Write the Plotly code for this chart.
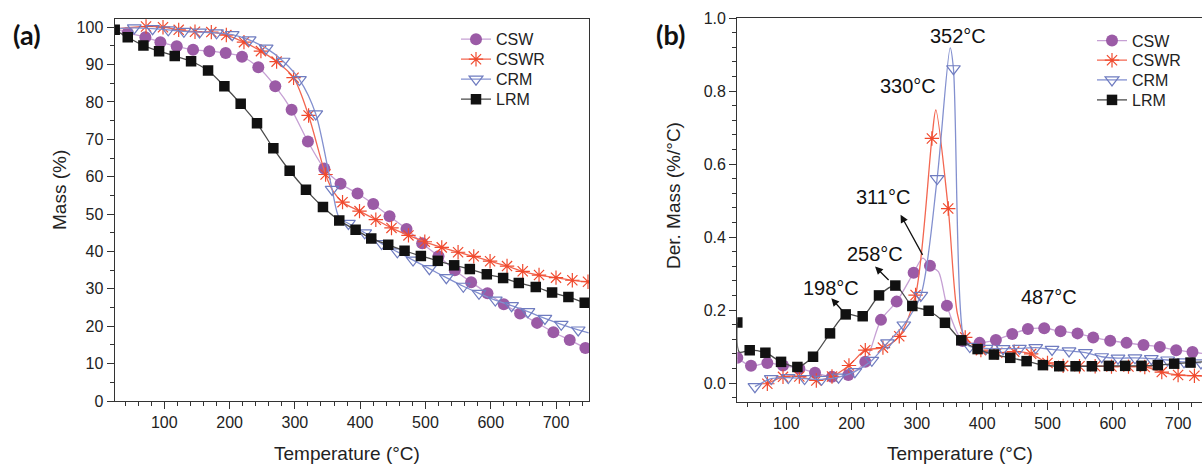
import plotly.graph_objects as go

W, H = 1202, 466

# ---------------- (a) TGA : Mass (%) ----------------
tga_lrm_T = [24, 44, 68, 92, 116, 141, 167, 192, 217, 242, 267, 292, 317, 343, 368, 393, 417, 443, 468, 493, 519, 544, 568, 594, 619, 643, 669, 694, 719, 744]
tga_lrm_M = [99.3, 97.3, 95.1, 93.6, 92.3, 90.9, 88.4, 84.2, 79.5, 74.3, 67.6, 61.6, 56.5, 51.9, 48.3, 45.8, 43.5, 41.8, 40.2, 38.8, 37.5, 36.3, 35.3, 33.9, 32.9, 31.6, 30.5, 29.0, 27.8, 26.3]

tga_csw_T = [44, 71, 94, 119, 144, 169, 194, 219, 244, 270, 295, 320, 345, 370, 396, 420, 445, 471, 495, 520, 545, 570, 595, 620, 645, 671, 696, 721, 745]
tga_csw_M = [98.5, 97.3, 96.0, 94.9, 94.0, 93.6, 93.1, 92.1, 89.3, 84.2, 77.9, 69.4, 62.2, 58.1, 55.5, 52.7, 49.4, 46.0, 42.2, 38.7, 35.0, 31.8, 28.8, 25.9, 23.4, 20.9, 18.4, 16.3, 14.2]
tga_csw_extra_T = [24]
tga_csw_extra_M = [99.6]

tga_cswr_T = [72, 98, 122, 147, 172, 195, 222, 248, 272, 298, 321, 347, 373, 399, 424, 448, 474, 499, 525, 550, 574, 599, 625, 649, 674, 700, 725, 749]
tga_cswr_M = [100.2, 100.0, 99.3, 98.8, 98.7, 97.9, 96.0, 93.6, 90.8, 86.5, 76.4, 60.6, 53.2, 50.8, 48.5, 46.3, 44.3, 42.6, 41.1, 39.8, 38.7, 37.4, 36.1, 34.7, 33.7, 33.0, 32.3, 31.9]
tga_cswr_extra_T = [24, 359]
tga_cswr_extra_M = [99.5, 56.0]

tga_crm_T = [54, 82, 106, 130, 154, 180, 204, 230, 256, 282, 307, 332, 357, 382, 407, 433, 457, 481, 506, 532, 558, 582, 607, 632, 657, 683, 708, 734]
tga_crm_M = [99.8, 99.6, 99.3, 98.9, 98.7, 98.5, 98.0, 96.6, 94.4, 90.9, 86.0, 76.8, 56.6, 47.5, 45.0, 42.1, 39.9, 37.7, 35.4, 33.0, 30.7, 28.8, 27.0, 25.5, 23.9, 22.1, 20.5, 19.0]
tga_crm_extra_T = [24, 368, 750]
tga_crm_extra_M = [99.6, 49.0, 18.2]

# ---------------- (b) DTG : Der. Mass (%/°C) ----------------
dtg_lrm_T = [25, 44, 68, 92, 117, 141, 167, 191, 217, 242, 267, 293, 318, 343, 368, 393, 418, 443, 468, 493, 518, 543, 568, 594, 619, 644, 669, 694, 719]
dtg_lrm_V = [0.166, 0.090, 0.083, 0.058, 0.044, 0.072, 0.136, 0.188, 0.183, 0.240, 0.267, 0.211, 0.198, 0.165, 0.117, 0.093, 0.078, 0.069, 0.060, 0.049, 0.046, 0.046, 0.046, 0.047, 0.047, 0.047, 0.049, 0.053, 0.056]
dtg_lrm_extra_T = [28, 740]
dtg_lrm_extra_V = [0.085, 0.058]

dtg_csw_T = [25, 46, 71, 95, 120, 144, 170, 195, 221, 245, 269, 295, 320, 346, 370, 396, 421, 446, 470, 495, 520, 546, 570, 596, 621, 647, 672, 697, 722]
dtg_csw_V = [0.069, 0.047, 0.055, 0.048, 0.040, 0.028, 0.017, 0.022, 0.058, 0.173, 0.223, 0.302, 0.321, 0.212, 0.115, 0.110, 0.118, 0.134, 0.148, 0.150, 0.142, 0.136, 0.125, 0.116, 0.110, 0.104, 0.099, 0.090, 0.085]
dtg_csw_extra_T = [309, 333, 740]
dtg_csw_extra_V = [0.342, 0.305, 0.080]

dtg_cswr_T = [71, 95, 120, 146, 170, 196, 221, 248, 273, 298, 323, 348, 374, 398, 423, 449, 475, 500, 524, 549, 573, 598, 624, 649, 675, 700, 725]
dtg_cswr_V = [-0.002, 0.017, 0.018, 0.007, 0.018, 0.048, 0.090, 0.097, 0.128, 0.241, 0.670, 0.478, 0.125, 0.090, 0.083, 0.086, 0.080, 0.055, 0.047, 0.046, 0.046, 0.045, 0.045, 0.044, 0.030, 0.022, 0.020]
dtg_cswr_extra_T = [329, 362, 740]
dtg_cswr_extra_V = [0.748, 0.190, 0.019]

dtg_crm_T = [52, 77, 103, 128, 154, 180, 205, 231, 255, 280, 306, 331, 356, 381, 406, 432, 457, 482, 507, 533, 558, 583, 608, 634, 659, 684, 709, 735]
dtg_crm_V = [-0.010, 0.012, 0.015, 0.012, 0.010, 0.016, 0.031, 0.062, 0.110, 0.159, 0.240, 0.560, 0.861, 0.100, 0.095, 0.094, 0.095, 0.097, 0.092, 0.088, 0.083, 0.072, 0.068, 0.069, 0.067, 0.063, 0.058, 0.055]
dtg_crm_extra_T = [351, 372]
dtg_crm_extra_V = [0.918, 0.120]

names = ["CSW", "CSWR", "CRM", "LRM"]

# peak labels in panel (b)
peak_labels = ["352°C", "330°C", "311°C", "258°C", "198°C", "487°C"]
peak_label_T = [363, 286, 248, 236, 169, 502]
peak_label_V = [0.952, 0.813, 0.510, 0.354, 0.259, 0.237]
# arrows (tail -> head)
arrow_tail_T = [310, 259, 188]
arrow_tail_V = [0.347, 0.278, 0.194]
arrow_head_T = [275, 236, 169]
arrow_head_V = [0.461, 0.319, 0.232]

# ---------------- styles ----------------
styles = {
    "CSW": dict(line="#c6a0d4", symbol="circle", mcolor="#9b5ba6", mline="#9b5ba6", size=12, mlw=0),
    "CSWR": dict(line="#f36650", symbol="asterisk-open", mcolor="#f04a2e", mline="#f04a2e", size=12, mlw=1.2),
    "CRM": dict(line="#8390cf", symbol="triangle-down-open", mcolor="#6f7cc0", mline="#6f7cc0", size=12, mlw=1.2),
    "LRM": dict(line="#4a4a4a", symbol="square", mcolor="#111111", mline="#111111", size=10.5, mlw=0),
}

FONT = "Arial, Liberation Sans, sans-serif"

fig = go.Figure()


def merged(T, V, eT, eV):
    pts = sorted(zip(list(T) + list(eT), list(V) + list(eV)))
    return [p[0] for p in pts], [p[1] for p in pts]


def add_series(name, T, V, eT, eV, xa, ya, legend):
    s = styles[name]
    lx, ly = merged(T, V, eT, eV)
    fig.add_trace(go.Scatter(x=lx, y=ly, mode="lines", xaxis=xa, yaxis=ya,
                             line=dict(color=s["line"], width=1.3, shape="spline", smoothing=0.8),
                             showlegend=False, hoverinfo="skip"))
    fig.add_trace(go.Scatter(x=T, y=V, mode="markers", xaxis=xa, yaxis=ya,
                             marker=dict(symbol=s["symbol"], size=s["size"], color=s["mcolor"],
                                         line=dict(color=s["mline"], width=s["mlw"])),
                             showlegend=False, cliponaxis=True))
    fig.add_trace(go.Scatter(x=[None], y=[None], mode="lines+markers", name=name, xaxis=xa, yaxis=ya,
                             line=dict(color=s["line"], width=1.3),
                             marker=dict(symbol=s["symbol"], size=s["size"], color=s["mcolor"],
                                         line=dict(color=s["mline"], width=s["mlw"])),
                             legend=legend, showlegend=True))


tga = {
    "CSW": (tga_csw_T, tga_csw_M, tga_csw_extra_T, tga_csw_extra_M),
    "CSWR": (tga_cswr_T, tga_cswr_M, tga_cswr_extra_T, tga_cswr_extra_M),
    "CRM": (tga_crm_T, tga_crm_M, tga_crm_extra_T, tga_crm_extra_M),
    "LRM": (tga_lrm_T, tga_lrm_M, [], []),
}
dtg = {
    "CSW": (dtg_csw_T, dtg_csw_V, dtg_csw_extra_T, dtg_csw_extra_V),
    "CSWR": (dtg_cswr_T, dtg_cswr_V, dtg_cswr_extra_T, dtg_cswr_extra_V),
    "CRM": (dtg_crm_T, dtg_crm_V, dtg_crm_extra_T, dtg_crm_extra_V),
    "LRM": (dtg_lrm_T, dtg_lrm_V, dtg_lrm_extra_T, dtg_lrm_extra_V),
}

# one single-entry legend per row so the row spacing matches the reference
legend_ids_a = ["legend", "legend2", "legend3", "legend4"]
legend_ids_b = ["legend5", "legend6", "legend7", "legend8"]
for n, lg in zip(names, legend_ids_a):
    add_series(n, *tga[n], "x", "y", lg)
for n, lg in zip(names, legend_ids_b):
    add_series(n, *dtg[n], "x2", "y2", lg)


def px_x(p):
    return p / W


def px_y(p):
    return 1 - p / H


axis_common = dict(
    showgrid=False, zeroline=False, showline=True, linecolor="#333333", linewidth=1.4,
    ticks="outside", ticklen=7, tickwidth=1.3, tickcolor="#333333",
    tickfont=dict(family=FONT, size=16, color="#222222"),
)

layout = dict(
    width=W, height=H,
    margin=dict(l=0, r=0, t=0, b=0, autoexpand=False),
    paper_bgcolor="white", plot_bgcolor="white",
    xaxis=dict(domain=[px_x(114.7), px_x(589.3)], range=[24, 751], anchor="y",
               dtick=100, tick0=0, mirror=True,
               minor=dict(dtick=20, tick0=0, ticks="outside", ticklen=4, tickcolor="#333333"),
               **axis_common),
    yaxis=dict(domain=[px_y(401), px_y(19)], range=[0, 102.2], anchor="x",
               dtick=10, tick0=0, mirror=True,
               minor=dict(dtick=5, tick0=0, ticks="outside", ticklen=4, tickcolor="#333333"),
               **axis_common),
    xaxis2=dict(domain=[px_x(737.3), 1.0], range=[25, 736.6], anchor="y2",
                dtick=100, tick0=0, mirror=True,
                minor=dict(dtick=20, tick0=0, ticks="outside", ticklen=4, tickcolor="#333333"),
                **axis_common),
    yaxis2=dict(domain=[px_y(402), px_y(18)], range=[-0.052, 1.0], anchor="x2",
                dtick=0.2, tick0=0, tickformat=".1f", mirror=False,
                minor=dict(dtick=0.04, tick0=0, ticks="outside", ticklen=4, tickcolor="#333333"),
                **axis_common),
)

legend_font = dict(family=FONT, size=16, color="#222222")
rows_a = [39.3, 59.3, 79.3, 99.3]
rows_b = [40.7, 60.3, 80.0, 100.0]
for lg, r in zip(legend_ids_a, rows_a):
    layout[lg] = dict(x=px_x(456), y=px_y(r), xanchor="left", yanchor="middle",
                      bgcolor="rgba(0,0,0,0)", font=legend_font, itemwidth=30, borderwidth=0)
for lg, r in zip(legend_ids_b, rows_b):
    layout[lg] = dict(x=px_x(1092), y=px_y(r), xanchor="left", yanchor="middle",
                      bgcolor="rgba(0,0,0,0)", font=legend_font, itemwidth=30, borderwidth=0)
fig.update_layout(**layout)

ann = []
# panel letters
letter_font = dict(family="Lato, Open Sans, sans-serif", size=27, color="#111111")
ann.append(dict(text="<b>(a)</b>", x=px_x(27), y=px_y(34), xref="paper", yref="paper",
                xanchor="center", yanchor="middle", showarrow=False, font=letter_font))
ann.append(dict(text="<b>(b)</b>", x=px_x(671), y=px_y(34), xref="paper", yref="paper",
                xanchor="center", yanchor="middle", showarrow=False, font=letter_font))
# axis titles
title_font = dict(family=FONT, size=19, color="#222222")
ann.append(dict(text="Temperature (°C)", x=px_x(347), y=px_y(453), xref="paper", yref="paper",
                xanchor="center", yanchor="middle", showarrow=False, font=title_font))
ann.append(dict(text="Temperature (°C)", x=px_x(960), y=px_y(453), xref="paper", yref="paper",
                xanchor="center", yanchor="middle", showarrow=False, font=title_font))
ann.append(dict(text="Mass (%)", x=px_x(59), y=px_y(190), xref="paper", yref="paper",
                xanchor="center", yanchor="middle", showarrow=False, textangle=-90, font=title_font))
ann.append(dict(text="Der. Mass (%/°C)", x=px_x(673), y=px_y(195), xref="paper", yref="paper",
                xanchor="center", yanchor="middle", showarrow=False, textangle=-90, font=title_font))
# peak labels
for t, xv, yv in zip(peak_labels, peak_label_T, peak_label_V):
    ann.append(dict(text=t, x=xv, y=yv, xref="x2", yref="y2", showarrow=False,
                    xanchor="center", yanchor="middle",
                    font=dict(family=FONT, size=20, color="#111111")))
for tx, ty, hx, hy in zip(arrow_tail_T, arrow_tail_V, arrow_head_T, arrow_head_V):
    ann.append(dict(text="", x=hx, y=hy, ax=tx, ay=ty, xref="x2", yref="y2",
                    axref="x2", ayref="y2", showarrow=True, arrowhead=2, arrowsize=1.2,
                    arrowwidth=1.3, arrowcolor="#111111", standoff=0, startstandoff=0))
fig.update_layout(annotations=ann)

fig.write_html("out.html", config={"displayModeBar": False},
               post_script="document.body.style.margin='0px';document.body.style.overflow='hidden';")
